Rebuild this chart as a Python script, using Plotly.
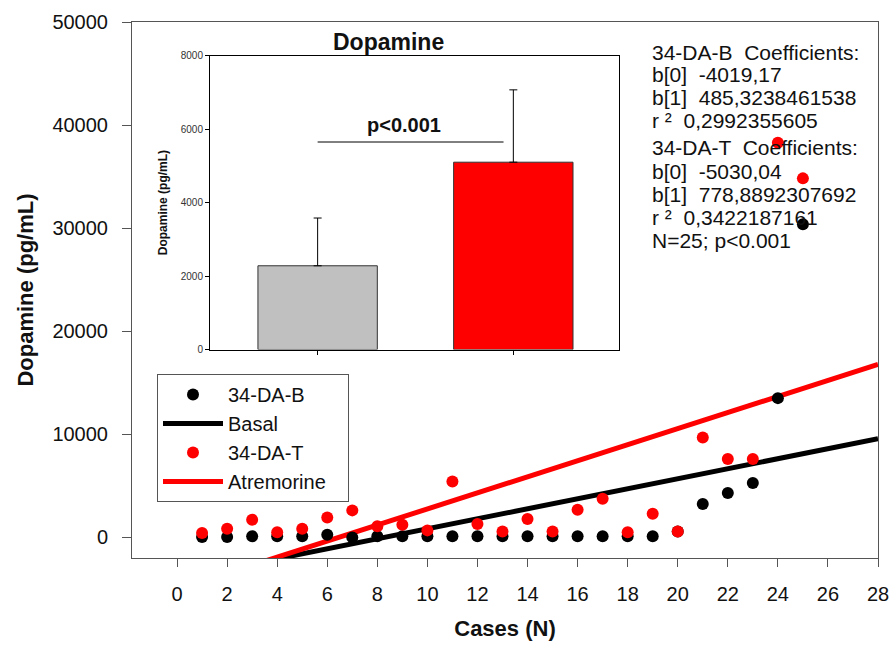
import plotly.graph_objects as go

# ---------------- data ----------------
cases = list(range(1, 26))
da_basal = [40, 40, 100, 100, 100, 260, 0, 100, 100, 100, 100, 100, 100,
            100, 100, 100, 100, 100, 100, 580, 3240, 4300, 5270, 13510, 30370]
da_treated = [430, 840, 1720, 490, 840, 1940, 2620, 1070, 1230, 680, 5430, 1300, 580,
              1780, 580, 2680, 3750, 490, 2300, 580, 9690, 7600, 7600, 38280, 34830]

# regression coefficients shown on the chart
basal_b0, basal_b1 = -4019.17, 485.3238461538
treat_b0, treat_b1 = -5030.04, 778.8892307692

x_ticks = list(range(0, 30, 2))
y_ticks = [0, 10000, 20000, 30000, 40000, 50000]

# inset bar chart
inset_groups = ["Basal", "Atremorine"]
inset_means = [2280, 5100]
inset_sd = [1300, 1970]
inset_ticks = [0, 2000, 4000, 6000, 8000]
signif_level = 5650

coef_lines = [
    "34-DA-B  Coefficients:",
    "b[0]  -4019,17",
    "b[1]  485,3238461538",
    "r ²  0,2992355605",
    "34-DA-T  Coefficients:",
    "b[0]  -5030,04",
    "b[1]  778,8892307692",
    "r ²  0,3422187161",
    "N=25; p<0.001",
]

# ---------------- layout geometry ----------------
W, H = 891, 646
L, R, T, B = 132, 13, 22, 88
x_range = [-1.8, 28]
y_range = [-2000, 50000]
pw, ph = W - L - R, H - T - B


def px_x(p):
    return (p - L) / pw


def px_y(p):
    return (H - B - p) / ph


FONT = "Arial, Liberation Sans, sans-serif"
NB = "\u00a0"

fig = go.Figure()

fit_x = x_range
fig.add_trace(go.Scatter(
    x=fit_x, y=[basal_b0 + basal_b1 * v for v in fit_x], mode="lines",
    name="Basal", line=dict(color="black", width=5), legendrank=2))
fig.add_trace(go.Scatter(
    x=fit_x, y=[treat_b0 + treat_b1 * v for v in fit_x], mode="lines",
    name="Atremorine" + NB * 3, line=dict(color="#ff0000", width=5), legendrank=4))
fig.add_trace(go.Scatter(
    x=cases, y=da_basal, mode="markers", name="34-DA-B",
    marker=dict(color="black", size=12), legendrank=1))
fig.add_trace(go.Scatter(
    x=cases, y=da_treated, mode="markers", name="34-DA-T",
    marker=dict(color="#ff0000", size=12), legendrank=3))

# inset bars
fig.add_trace(go.Bar(
    x=inset_groups, y=inset_means, xaxis="x2", yaxis="y2", width=0.61,
    marker=dict(color=["#c0c0c0", "#ff0000"], line=dict(color="#333333", width=1)),
    error_y=dict(type="data", array=inset_sd, arrayminus=[0, 0], symmetric=False,
                 color="black", thickness=1, width=4),
    showlegend=False))

axis_font = dict(family=FONT, size=20, color="#111")

fig.update_layout(
    width=W, height=H, autosize=False,
    margin=dict(l=L, r=R, t=T, b=B, pad=0, autoexpand=False),
    paper_bgcolor="white", plot_bgcolor="white",
    font=dict(family=FONT, color="#111"),
    showlegend=True,
    legend=dict(x=px_x(157), y=px_y(374), xanchor="left", yanchor="top",
                bordercolor="#555", borderwidth=1, bgcolor="white",
                font=dict(family=FONT, size=20, color="#111"),
                itemwidth=60, traceorder="normal"),
    xaxis=dict(range=x_range, tickvals=x_ticks, ticks="outside", ticklen=8,
               tickcolor="#555", showgrid=False, zeroline=False, showline=True,
               linecolor="#555", linewidth=1, mirror=True, tickfont=axis_font,
               ticklabelstandoff=10, automargin=False,
               title=dict(text="<b>Cases (N)</b>", font=dict(family=FONT, size=22, color="#111"),
                          standoff=16)),
    yaxis=dict(range=y_range, tickvals=y_ticks, tickformat="d", ticks="outside", ticklen=9,
               tickcolor="#555", showgrid=False, zeroline=False, showline=True,
               linecolor="#555", linewidth=1, mirror=True, tickfont=axis_font,
               ticklabelstandoff=10, automargin=False,
               title=dict(text="<b>Dopamine (pg/mL)</b>", font=dict(family=FONT, size=22, color="#111"),
                          standoff=12)),
    xaxis2=dict(domain=[px_x(210), px_x(619)], anchor="y2", range=[-0.55, 1.54],
                showgrid=False, zeroline=False, showline=True, linecolor="black",
                linewidth=1, mirror=True, ticks="outside", ticklen=4,
                tickcolor="black", showticklabels=False, automargin=False),
    yaxis2=dict(domain=[px_y(349.5), px_y(55.7)], anchor="x2", range=[0, 8000],
                tickvals=inset_ticks, showgrid=False, zeroline=False, showline=True,
                linecolor="black", linewidth=1, mirror=True, ticks="outside",
                ticklen=4, tickcolor="black", automargin=False,
                tickfont=dict(family=FONT, size=10, color="#333"),
                tickformat="d",
                title=dict(text="<b>Dopamine (pg/mL)</b>",
                           font=dict(family=FONT, size=12, color="#111"), standoff=10)),
)

# inset title, significance bar and label
fig.add_annotation(x=px_x(388.5), y=px_y(41.7), xref="paper", yref="paper",
                   text="<b>Dopamine</b>", showarrow=False, xanchor="center", yanchor="middle",
                   font=dict(family=FONT, size=23, color="#111"))
fig.add_shape(type="line", xref="x2", yref="y2", x0=0, x1=0.95,
              y0=signif_level, y1=signif_level, line=dict(color="black", width=1))
fig.add_annotation(x=0.44, y=signif_level, xref="x2", yref="y2", yshift=17,
                   text="<b>p<0.001</b>", showarrow=False, xanchor="center", yanchor="middle",
                   font=dict(family=FONT, size=20, color="#111"))

# coefficient text block
line_px = [52, 75, 98, 121, 148, 171, 194, 217, 240]
for txt, yp in zip(coef_lines, line_px):
    fig.add_annotation(x=px_x(650), y=px_y(yp), xref="paper", yref="paper",
                       text=txt, showarrow=False, xanchor="left", yanchor="middle",
                       font=dict(family=FONT, size=21, color="#111"))

fig.write_html("out.html")
